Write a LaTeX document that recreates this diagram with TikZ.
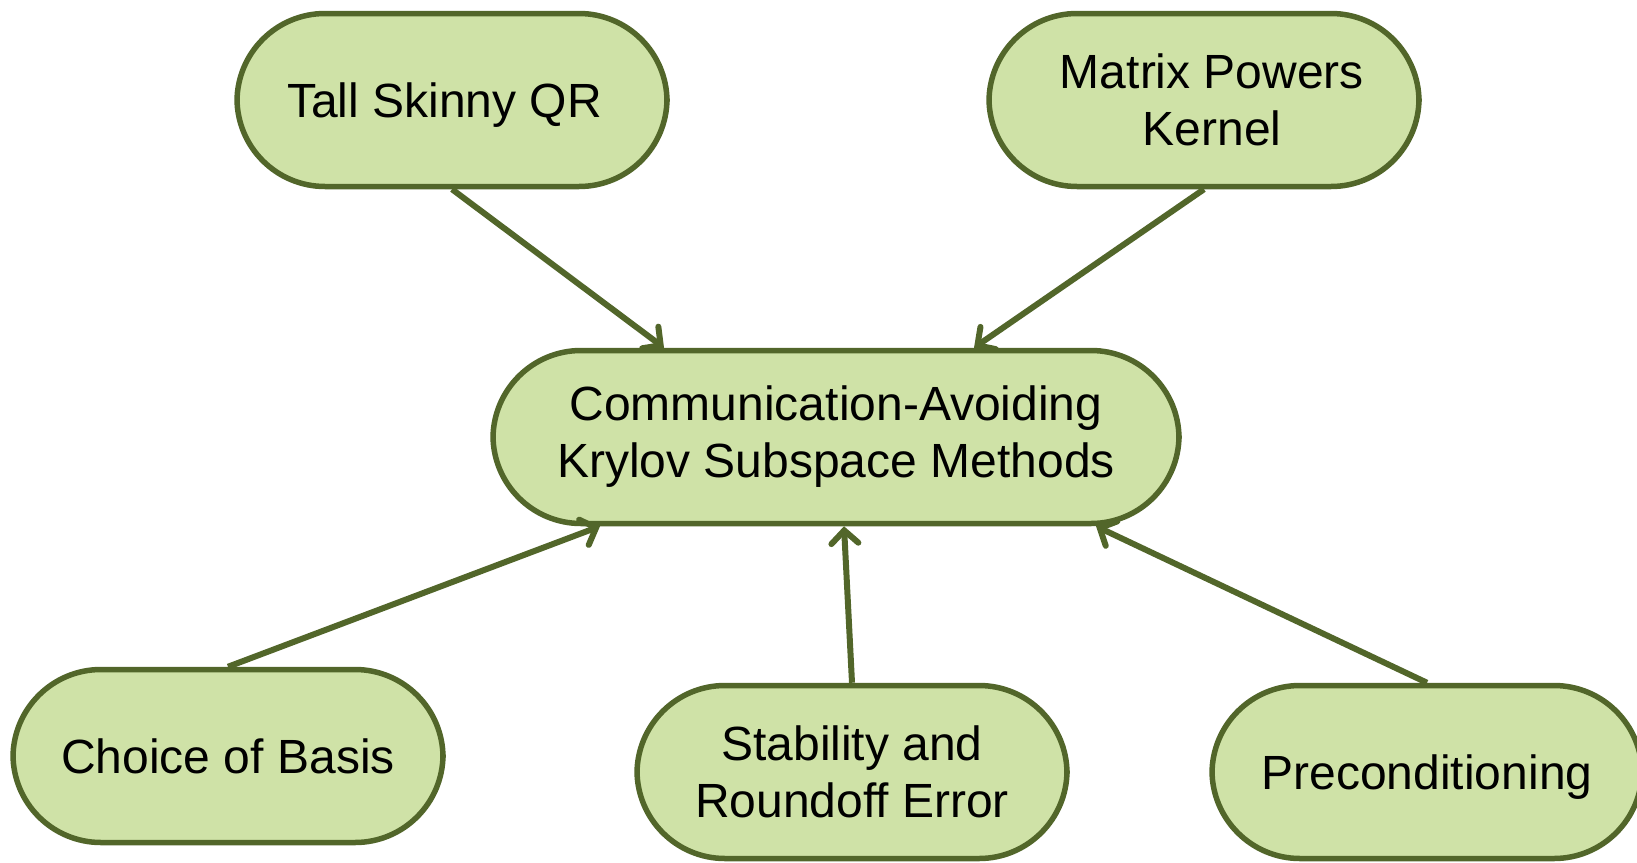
\documentclass[tikz,border=0pt]{standalone}
\usepackage{fontspec}
\setmainfont{Liberation Sans}
\usetikzlibrary{calc,arrows.meta}
\definecolor{boxfill}{RGB}{207,226,167}
\definecolor{olive}{RGB}{82,102,42}
\begin{document}
\begin{tikzpicture}[x=1pt,y=-1pt,
  topic/.style={draw=olive, line width=5.5pt, fill=boxfill, rounded corners=88pt,
    minimum width=430pt, minimum height=173pt, inner sep=0pt, align=center,
    font=\fontsize{48}{57}\selectfont, text=black},
  oneline/.style={text depth=0pt},
  link/.style={draw=olive, line width=6pt,
    -{Straight Barb[length=13pt,width=27pt,line cap=round]}}]
\useasboundingbox (0,0) rectangle (1637,862);
\clip (0,0) rectangle (1637,862);

% central topic
\node[topic, minimum width=686pt] (ca) at (836,437)
  {Communication-Avoiding\\Krylov Subspace Methods};

% contributing topics
\node[topic, oneline] (tsqr) at (452,100) {Tall Skinny QR\hspace*{15pt}};
\node[topic] (mpk)  at (1204,100) {\hspace*{16pt}Matrix Powers\\\hspace*{16pt}Kernel};
\node[topic, oneline] (cob)  at (228,756) {Choice of Basis};
\node[topic] (sre)  at (852,772) {Stability and\\Roundoff Error};
\node[topic, oneline] (pre)  at (1427,772) {Preconditioning};

% connectors into the central topic
\draw[link] (tsqr.south) -- ($(ca.north)+(-172,0)$);
\draw[link] (mpk.south)  -- ($(ca.north)+(138,0)$);
\draw[link] (cob.north)  -- ($(ca.south)+(-236,0)$);
\draw[link] (sre.north)  -- ($(ca.south)+(8,0)$);
\draw[link] (pre.north)  -- ($(ca.south)+(260,0)$);
\end{tikzpicture}
\end{document}
